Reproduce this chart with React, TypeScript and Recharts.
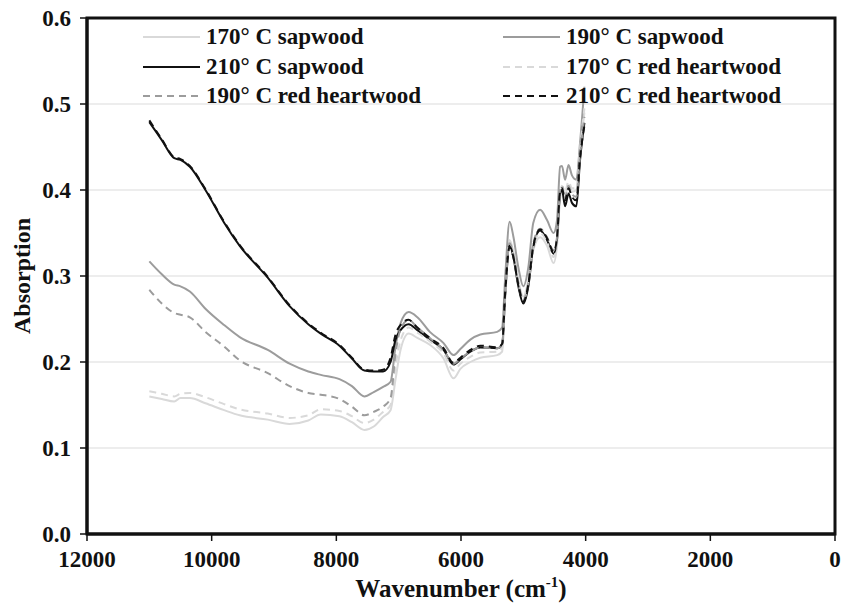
import { LineChart, Line, XAxis, YAxis, CartesianGrid, ReferenceArea } from 'recharts';

// wavenumber grid (cm-1), high to low
const wavenumbers = [
  11000, 10800, 10600, 10500, 10350, 10100, 9800, 9550, 9100, 8750, 8450, 8250, 7950, 7750, 7550, 7400,
  7250, 7130, 7050, 6970, 6840, 6700, 6500, 6280, 6120, 6010, 5850, 5690, 5420, 5340, 5290, 5220, 5160,
  5080, 5000, 4920, 4840, 4730, 4620, 4515, 4460, 4410, 4380, 4330, 4275, 4220, 4150, 4090, 4020,
];

const sap170 = [
  0.160, 0.157, 0.154, 0.158, 0.158, 0.152, 0.144, 0.138, 0.133, 0.128, 0.132, 0.139, 0.137, 0.130, 0.121, 0.125,
  0.136, 0.144, 0.180, 0.214, 0.233, 0.228, 0.220, 0.204, 0.181, 0.192, 0.200, 0.205, 0.208, 0.212, 0.275, 0.342, 0.328,
  0.295, 0.276, 0.295, 0.330, 0.345, 0.335, 0.315, 0.335, 0.390, 0.398, 0.395, 0.405, 0.398, 0.400, 0.445, 0.490,
];
const sap190 = [
  0.317, 0.302, 0.290, 0.288, 0.282, 0.262, 0.243, 0.229, 0.214, 0.198, 0.189, 0.185, 0.180, 0.172, 0.160, 0.165,
  0.171, 0.177, 0.218, 0.245, 0.258, 0.252, 0.235, 0.222, 0.208, 0.215, 0.226, 0.232, 0.235, 0.240, 0.300, 0.363, 0.346,
  0.310, 0.288, 0.310, 0.362, 0.377, 0.365, 0.350, 0.365, 0.427, 0.428, 0.412, 0.429, 0.417, 0.412, 0.455, 0.520,
];
const sap210 = [
  0.479, 0.458, 0.437, 0.435, 0.427, 0.400, 0.362, 0.335, 0.298, 0.265, 0.244, 0.233, 0.219, 0.204, 0.190, 0.189,
  0.189, 0.200, 0.226, 0.237, 0.244, 0.237, 0.226, 0.214, 0.197, 0.203, 0.212, 0.217, 0.216, 0.220, 0.280, 0.336, 0.322,
  0.288, 0.268, 0.288, 0.334, 0.353, 0.342, 0.326, 0.342, 0.396, 0.400, 0.381, 0.396, 0.385, 0.381, 0.435, 0.478,
];
const red170 = [
  0.166, 0.163, 0.160, 0.163, 0.164, 0.159, 0.151, 0.145, 0.140, 0.135, 0.138, 0.145, 0.143, 0.137, 0.129, 0.133,
  0.142, 0.150, 0.195, 0.225, 0.240, 0.234, 0.224, 0.210, 0.190, 0.198, 0.206, 0.211, 0.212, 0.216, 0.278, 0.340, 0.326,
  0.292, 0.273, 0.292, 0.333, 0.350, 0.340, 0.322, 0.340, 0.395, 0.405, 0.398, 0.410, 0.402, 0.402, 0.448, 0.495,
];
const red190 = [
  0.284, 0.268, 0.257, 0.255, 0.252, 0.235, 0.218, 0.202, 0.187, 0.172, 0.164, 0.162, 0.157, 0.148, 0.138, 0.142,
  0.148, 0.158, 0.210, 0.238, 0.249, 0.240, 0.228, 0.214, 0.198, 0.204, 0.212, 0.217, 0.216, 0.220, 0.282, 0.338, 0.325,
  0.292, 0.272, 0.292, 0.338, 0.355, 0.345, 0.330, 0.345, 0.400, 0.405, 0.390, 0.405, 0.395, 0.392, 0.440, 0.485,
];
const red210 = [
  0.481, 0.459, 0.438, 0.436, 0.428, 0.401, 0.363, 0.336, 0.299, 0.266, 0.245, 0.234, 0.220, 0.205, 0.191, 0.190,
  0.191, 0.205, 0.232, 0.243, 0.249, 0.240, 0.228, 0.216, 0.199, 0.205, 0.214, 0.219, 0.217, 0.221, 0.282, 0.334, 0.322,
  0.290, 0.270, 0.290, 0.335, 0.354, 0.344, 0.328, 0.344, 0.398, 0.402, 0.388, 0.402, 0.392, 0.388, 0.438, 0.475,
];

const xTicks = [12000, 10000, 8000, 6000, 4000, 2000, 0];
const yTicks = [0, 0.1, 0.2, 0.3, 0.4, 0.5, 0.6];

// legend order: left/right columns row by row
const series = [
  { key: 'sap170', name: '170° C sapwood', values: sap170, color: '#d9d9d9', dash: undefined },
  { key: 'sap190', name: '190° C sapwood', values: sap190, color: '#9c9c9c', dash: undefined },
  { key: 'sap210', name: '210° C sapwood', values: sap210, color: '#111111', dash: undefined },
  { key: 'red170', name: '170° C red heartwood', values: red170, color: '#d9d9d9', dash: '7 5' },
  { key: 'red190', name: '190° C red heartwood', values: red190, color: '#9c9c9c', dash: '7 5' },
  { key: 'red210', name: '210° C red heartwood', values: red210, color: '#111111', dash: '7 5' },
];

const data = wavenumbers.map((wn, i) => {
  const row: any = { wn };
  series.forEach(s => { row[s.key] = s.values[i]; });
  return row;
});

const FONT = '"Liberation Serif", "Times New Roman", serif';

const XLabel = (props: any) => {
  const { viewBox } = props;
  const cx = viewBox.x + viewBox.width / 2;
  return (
    <text x={cx} y={viewBox.y + 63} textAnchor="middle" fontFamily={FONT} fontWeight="bold" fontSize={25} fill="#111">
      Wavenumber (cm<tspan fontSize={15} dy={-10}>-1</tspan><tspan dy={10}>)</tspan>
    </text>
  );
};

function LegendBox() {
  return (
    <div style={{ position: 'absolute', left: 143, top: 24, width: 700, fontFamily: FONT, fontWeight: 'bold', fontSize: 23, color: '#111' }}>
      {series.map((s, i) => (
        <div key={s.key} style={{ position: 'absolute', left: (i % 2) * 360, top: Math.floor(i / 2) * 29.5, display: 'flex', alignItems: 'center', whiteSpace: 'nowrap', lineHeight: '26px' }}>
          <svg width={58} height={10} style={{ marginRight: 5 }}>
            <line x1={0} y1={5} x2={57} y2={5} stroke={s.color} strokeWidth={2} strokeDasharray={s.dash} />
          </svg>
          {s.name}
        </div>
      ))}
    </div>
  );
}

export default function App() {
  // pinned to the page corner so the chart fills the 844x607 window without scrollbars
  return (
    <div style={{ position: 'absolute', left: 0, top: 0, width: 844, height: 607, overflow: 'hidden' }}>
      <LineChart width={844} height={607} data={data} margin={{ top: 18, right: 9, bottom: 43, left: 27 }}>
        <CartesianGrid vertical={false} stroke="#dcdcdc" strokeWidth={1.2} />
        <XAxis
          type="number"
          dataKey="wn"
          domain={[0, 12000]}
          reversed
          ticks={xTicks}
          interval={0}
          height={30}
          tickSize={7}
          tickMargin={10}
          axisLine={{ stroke: '#111', strokeWidth: 3 }}
          tickLine={{ stroke: '#111', strokeWidth: 1.5 }}
          tick={{ fill: '#111', fontFamily: FONT, fontWeight: 'bold', fontSize: 23 }}
          label={<XLabel />}
        />
        <YAxis
          type="number"
          domain={[0, 0.6]}
          ticks={yTicks}
          width={60}
          tickSize={7}
          tickMargin={9}
          tickFormatter={(v: number) => v.toFixed(1)}
          axisLine={{ stroke: '#111', strokeWidth: 3 }}
          tickLine={{ stroke: '#111', strokeWidth: 1.5 }}
          tick={{ fill: '#111', fontFamily: FONT, fontWeight: 'bold', fontSize: 23 }}
          label={{ value: 'Absorption', angle: -90, position: 'insideLeft', offset: -6, style: { textAnchor: 'middle', fontFamily: FONT, fontWeight: 'bold', fontSize: 24, fill: '#111' } }}
        />
        <ReferenceArea x1={12000} x2={0} y1={0} y2={0.6} fill="none" stroke="#111" strokeWidth={3} ifOverflow="visible" />
        {series.map(s => (
          <Line
            key={s.key}
            type="monotone"
            dataKey={s.key}
            name={s.name}
            stroke={s.color}
            strokeWidth={2}
            strokeDasharray={s.dash}
            dot={false}
            isAnimationActive={false}
          />
        ))}
      </LineChart>
      <LegendBox />
    </div>
  );
}
